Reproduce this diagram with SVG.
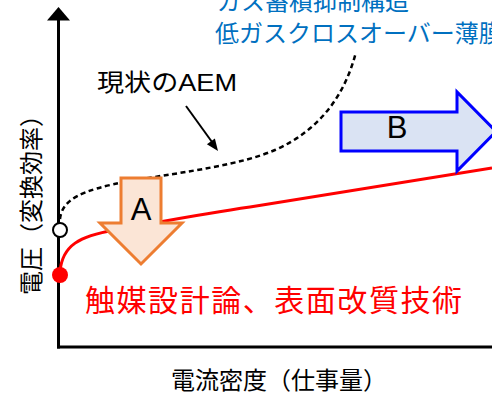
<svg xmlns="http://www.w3.org/2000/svg" width="492" height="395" viewBox="0 0 492 395">
<style>
text{font-family:"Liberation Sans","Noto Sans CJK JP",sans-serif}
.axis{stroke:#000;stroke-width:3;fill:none}
.cjk{font-family:"Noto Sans CJK JP","Liberation Sans",sans-serif}
</style>
<rect width="492" height="395" fill="#fff"/>
<g id="axes">
<line class="axis" x1="58.5" y1="19" x2="58.5" y2="348.5"/>
<line class="axis" x1="57" y1="347" x2="492" y2="347"/>
<polygon points="47,20.5 58.5,7 70,20.5" fill="#000"/>
</g>
<g id="axis-labels" class="cjk" font-size="24" fill="#000">
<text transform="translate(40,199) rotate(-90)" text-anchor="middle" class="cjk">電圧（変換効率）</text>
<text x="279" y="389" text-anchor="middle" class="cjk">電流密度（仕事量）</text>
</g>
<g id="connectors">
<path id="red-curve" d="M60,272 C62,245 80,236 115,230 C150,224 200,214 250,207 L492,168" fill="none" stroke="#ff0000" stroke-width="3"/>
<path id="aem-curve" d="M60,219 C62,200 80,190 130,181 C190,171 240,165 275,150 C320,130 345,95 356,52" fill="none" stroke="#000" stroke-width="2.5" stroke-dasharray="5,3.5"/>
<line x1="186" y1="106" x2="212" y2="142" stroke="#000" stroke-width="2"/>
<polygon points="218,151 214.9,138.4 206.9,144.2" fill="#000"/>
</g>
<g id="point-open"><circle cx="60" cy="230" r="7" fill="#fff" stroke="#000" stroke-width="2"/></g>
<g id="point-red"><circle cx="60" cy="275" r="8" fill="#ff0000"/></g>
<g id="label-aem"><text x="97" y="91" font-size="24" fill="#000" textLength="140" lengthAdjust="spacingAndGlyphs">現状のAEM</text></g>
<g id="arrow-A">
<polygon points="121,178 161,178 161,223 182,223 141,264 100,223 121,223" fill="#fbe5d6" stroke="#ed7d31" stroke-width="3" stroke-linejoin="miter"/>
<text x="141" y="220" font-size="31" text-anchor="middle" fill="#000">A</text>
</g>
<g id="arrow-B">
<polygon points="341,112 457,112 457,92 496,131.5 457,171 457,151 341,151" fill="#dae3f3" stroke="#0000ff" stroke-width="3"/>
<text x="397" y="138" font-size="31" text-anchor="middle" fill="#000">B</text>
</g>
<g id="label-red"><text x="85" y="311" font-size="30" fill="#ff0000" class="cjk" textLength="377" lengthAdjust="spacing">触媒設計論、表面改質技術</text></g>
<g id="label-blue" class="cjk" font-size="24" fill="#0070c0">
<text x="217" y="10" class="cjk">ガス蓄積抑制構造</text>
<text x="215" y="42" class="cjk">低ガスクロスオーバー薄膜</text>
</g>
</svg>
